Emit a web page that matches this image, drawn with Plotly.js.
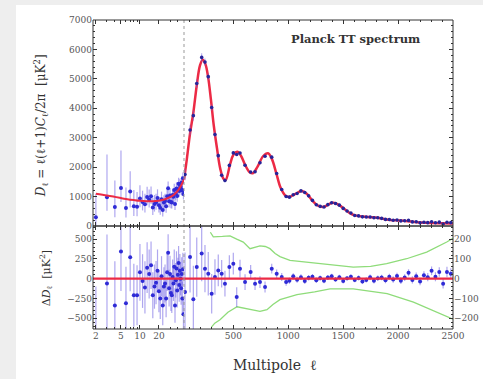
<!DOCTYPE html>
<html><head><meta charset="utf-8">
<script src="https://cdn.plot.ly/plotly-3.0.1.min.js"></script>
<style>html,body{margin:0;padding:0;background:#fff;} #chart{width:483px;height:379px;}</style>
</head><body><div id="chart"></div>
<script>
// ---- best-fit model curve ----
var modelLowEll = [2,3,4,5,6,8,10,13,16,20,25,30,35,40,45,50];
var modelLowD   = [1100,1040,990,950,920,880,855,842,842,862,910,980,1070,1200,1380,1580];
var modelHiEll = [50,75,105,135,165,195,220,245,270,295,320,350,380,410,430,470,500,535,570,610,650,680,720,770,815,850,890,930,975,1010,1060,1120,1170,1220,1270,1320,1370,1410,1460,1510,1560,1610,1680,1750,1810,1870,1930,2000,2050,2120,2200,2300,2400,2500];
var modelHiD   = [1580,2250,3150,3850,4750,5450,5650,5500,5050,4300,3450,2650,1950,1600,1570,2100,2420,2520,2380,2050,1820,1800,2020,2370,2470,2280,1800,1300,1030,990,1080,1190,1090,860,690,650,740,790,720,580,440,360,320,300,280,240,205,190,180,150,120,100,92,88];

// ---- low-ell data (2 <= ell <= 49) ----
var lowEll = [2,3,4,5,6,7,8,9,10,11,12,13,14,15,16,17,18,19,20,21,22,23,24,25,26,27,28,29,30,31,32,33,34,35,36,37,38,39,40,41,42,43,44,45,46,47,48,49];
var lowD = [300,980,650,1295,610,1170,670,655,935,820,736,982,902,1012,632,745,800,956,702,620,908,548,798,850,672,1015,1280,845,1040,815,802,1050,990,1220,752,1098,1275,1022,1250,1435,1190,1405,1342,1260,1480,1210,1620,1090];
var lowErrUp = [800,1450,900,1270,700,690,550,500,450,380,360,350,340,330,320,310,300,290,280,270,260,255,250,245,240,235,230,228,226,224,222,220,218,216,214,212,210,208,206,205,204,203,202,201,200,200,200,200];
var lowErrDn = [280,460,350,480,320,545,330,320,300,290,280,275,270,265,260,255,250,245,240,235,230,228,226,224,222,220,218,216,214,212,210,208,206,205,204,203,202,201,200,199,198,197,196,195,194,193,192,191];
var lowRes = [-800,-60,-340,345,-310,270,-210,-210,80,-30,-110,140,60,170,-210,-100,-50,100,-160,-250,30,-340,-100,-60,-250,80,330,-120,60,-180,-210,20,-60,150,-340,-20,130,-150,50,200,-80,100,0,-120,60,-250,120,-450];
var lowResErr = [700,620,560,500,460,430,400,380,360,340,330,320,310,300,290,280,275,270,265,260,255,250,245,240,238,236,234,232,230,228,226,224,222,220,219,218,217,216,215,214,213,212,211,210,210,210,210,210];

// ---- high-ell binned data (ell >= 50) ----
var hiEll = [59,105,135,166,211,241,271,302,332,362,393,423,463,499,530,560,606,657,697,742,788,849,894,940,980,
  1010,1045,1080,1115,1150,1185,1220,1255,1290,1325,1360,1395,1430,1465,1500,1535,1570,1605,1640,1675,1710,1745,1780,1815,1850,1885,1920,1955,1990,2025,2060,2095,2130,2165,2200,2235,2270,2305,2340,2375,2410,2445,2480];
var hiD = [1750,3260,3750,4840,5730,5570,5075,4025,3110,2390,1725,1545,2060,2485,2430,2480,2065,1835,1845,2150,2370,2340,1785,1240,1005,
  980,1062,1105,1193,1138,1025,870,722,668,645,726,792,766,708,598,512,440,359,344,311,304,308,280,280,261,224,220,194,206,174,179,190,140,145,107,129,114,141,110,131,69,126,115];
var hiRes = [-67,110,-104,59,127,51,25,-76,9,42,25,-25,59,76,-93,51,-17,34,-25,-17,-42,51,25,9,-17,
  -10,12,-5,8,-12,5,10,-8,3,-10,6,12,-4,8,-12,2,10,-6,4,-14,-6,8,-10,2,6,-8,10,-4,14,-10,6,30,-6,12,-14,18,8,40,10,34,-25,34,25];
var hiErr = [200,180,170,150,140,120,110,100,90,80,70,65,60,55,50,45,40,35,32,30,28,25,22,20,18,
  16,16,15,15,15,14,14,14,13,13,13,13,12,12,12,12,12,12,13,13,13,13,14,14,14,15,15,16,16,17,17,18,18,19,19,20,21,22,23,24,25,26,28];

// ---- green envelope lines in residual panel ----
var gUpEll = [290,317,400,469,530,590,651,700,742,790,833,880,924,1015,1167,1289,1380,1592,1750,1896,2078,2260,2443,2500];
var gUp    = [235,212,214,217,200,185,152,158,166,163,152,128,112,93,84,76,70,59,62,76,101,135,186,205];
var gLoEll = [300,330,378,450,533,600,680,742,806,860,924,1079,1240,1380,1592,1900,2140,2390,2500];
var gLo    = [-245,-225,-208,-170,-142,-150,-160,-165,-157,-130,-106,-81,-67,-51,-51,-76,-118,-177,-205];

var d = 0.2528, yb = 0.3333;
var red = '#ec2a45', blue = '#2f2bd6', dark = '#26249a', ebar = 'rgba(110,95,225,0.55)', green = '#8fdc7a';
var tickFont = {family:'DejaVu Serif', size:9, color:'#555'};

var traces = [
  {x:lowEll, y:lowD, xaxis:'x', yaxis:'y', type:'scatter', mode:'markers',
   marker:{color:blue, size:4},
   error_y:{type:'data', symmetric:false, array:lowErrUp, arrayminus:lowErrDn, color:ebar, thickness:1.2, width:0}},
  {x:modelLowEll, y:modelLowD, xaxis:'x', yaxis:'y', type:'scatter', mode:'lines',
   line:{color:red, width:2, shape:'spline'}},
  {x:modelHiEll, y:modelHiD, xaxis:'x2', yaxis:'y', type:'scatter', mode:'lines',
   line:{color:red, width:2.5, shape:'spline'}},
  {x:hiEll, y:hiD, xaxis:'x2', yaxis:'y', type:'scatter', mode:'markers',
   marker:{color:dark, size:3.6},
   error_y:{type:'data', array:hiErr, color:ebar, thickness:1, width:0}},
  {x:modelHiEll, y:modelHiD, xaxis:'x2', yaxis:'y4', type:'scatter', mode:'lines', opacity:0, hoverinfo:'skip', line:{width:0}},
  {x:gUpEll, y:gUp, xaxis:'x4', yaxis:'y3', type:'scatter', mode:'lines', line:{color:green, width:1.3}},
  {x:gLoEll, y:gLo, xaxis:'x4', yaxis:'y3', type:'scatter', mode:'lines', line:{color:green, width:1.3}},
  {x:lowEll, y:lowRes, xaxis:'x3', yaxis:'y2', type:'scatter', mode:'markers',
   marker:{color:blue, size:4},
   error_y:{type:'data', array:lowResErr, color:ebar, thickness:1.2, width:0}},
  {x:hiEll, y:hiRes, xaxis:'x4', yaxis:'y3', type:'scatter', mode:'markers',
   marker:{color:blue, size:4},
   error_y:{type:'data', array:hiErr, color:ebar, thickness:1.2, width:0}}
];

var common = {showgrid:false, zeroline:false, showline:false, ticks:'inside', ticklen:4, tickwidth:1, tickcolor:'#333', tickfont:tickFont};
function ax(o){ return Object.assign({}, common, o); }
var lg = [Math.log10(1.8), Math.log10(50)];

var layout = {
  width:483, height:379, margin:{l:93, r:30, t:20, b:50},
  paper_bgcolor:'#ffffff', plot_bgcolor:'#ffffff', showlegend:false,
  xaxis: ax({type:'log', domain:[0,d], range:lg, anchor:'y', tickmode:'array', tickvals:[2,5,10,20], showticklabels:false, mirror:'ticks',
             minor:{tickmode:'array', tickvals:[3,4,6,7,8,9,30,40], ticklen:2, ticks:'inside', tickcolor:'#333'}}),
  xaxis2: ax({domain:[d,1], range:[50,2500], anchor:'y', tick0:0, dtick:500, showticklabels:false, mirror:'ticks',
             minor:{dtick:100, ticklen:2, ticks:'inside', tickcolor:'#333'}}),
  xaxis3: ax({type:'log', domain:[0,d], range:lg, anchor:'y2', tickmode:'array', tickvals:[2,5,10,20], ticktext:['2','5','10','20'], mirror:'ticks',
             minor:{tickmode:'array', tickvals:[3,4,6,7,8,9,30,40], ticklen:2, ticks:'inside', tickcolor:'#333'}}),
  xaxis4: ax({domain:[d,1], range:[50,2500], anchor:'y3', tick0:0, dtick:500, mirror:'ticks',
             minor:{dtick:100, ticklen:2, ticks:'inside', tickcolor:'#333'}}),
  yaxis: ax({domain:[yb,1], range:[0,7000], anchor:'x', tick0:0, dtick:1000,
             minor:{dtick:200, ticklen:2, ticks:'inside', tickcolor:'#333'}}),
  yaxis4: ax({overlaying:'y', side:'right', anchor:'x2', range:[0,7000], tick0:0, dtick:1000, showticklabels:false,
             minor:{dtick:200, ticklen:2, ticks:'inside', tickcolor:'#333'}}),
  yaxis2: ax({domain:[0,yb], range:[-637,667], anchor:'x3', tickmode:'array', tickvals:[-500,-250,0,250,500],
             minor:{dtick:50, ticklen:2, ticks:'inside', tickcolor:'#333'}}),
  yaxis3: ax({domain:[0,yb], range:[-254.5,266.7], anchor:'x4', side:'right', tickmode:'array', tickvals:[-200,-100,0,100,200],
             minor:{dtick:20, ticklen:2, ticks:'inside', tickcolor:'#333'}}),
  shapes: [
    {type:'rect', xref:'paper', yref:'paper', x0:-0.2583, x1:-0.2139, y0:-0.2, y1:1.1, fillcolor:'#eeeeee', line:{width:0}, layer:'below'},
    {type:'rect', xref:'paper', yref:'paper', x0:-0.26, x1:1.1, y0:1.0485, y1:1.1, fillcolor:'#eeeeee', line:{width:0}, layer:'below'},
    {type:'line', xref:'paper', yref:'y2', x0:0, x1:1, y0:0, y1:0, line:{color:red, width:2.2}},
    {type:'line', xref:'paper', yref:'paper', x0:d, x1:d, y0:0, y1:1, line:{color:'#999', width:1, dash:'dot'}},
    {type:'rect', xref:'paper', yref:'paper', x0:0, x1:1, y0:yb, y1:1, line:{color:'#333', width:1}},
    {type:'rect', xref:'paper', yref:'paper', x0:0, x1:1, y0:0, y1:yb, line:{color:'#333', width:1}}
  ],
  annotations: [
    {text:'<b>Planck TT spectrum</b>', xref:'paper', yref:'paper', x:0.729, y:0.9385, xanchor:'center', yanchor:'middle', showarrow:false,
     font:{family:'DejaVu Serif', size:11.5, color:'#333'}},
    {text:'<i>D</i><sub>ℓ</sub> = ℓ(ℓ+1)<i>C</i><sub>ℓ</sub>/2π  [μK<sup>2</sup>]', xref:'paper', yref:'paper', x:-0.144, y:0.657,
     xanchor:'center', yanchor:'middle', textangle:-90, showarrow:false, font:{family:'DejaVu Serif', size:12, color:'#333'}},
    {text:'Δ<i>D</i><sub>ℓ</sub>  [μK<sup>2</sup>]', xref:'paper', yref:'paper', x:-0.13, y:0.165,
     xanchor:'center', yanchor:'middle', textangle:-90, showarrow:false, font:{family:'DejaVu Serif', size:11, color:'#333'}},
    {text:'Multipole  ℓ', xref:'paper', yref:'paper', x:0.506, y:-0.1165, xanchor:'center', yanchor:'middle', showarrow:false,
     font:{family:'DejaVu Serif', size:14, color:'#333'}}
  ]
};

Plotly.newPlot('chart', traces, layout, {staticPlot:true, displayModeBar:false});
</script></body></html>
